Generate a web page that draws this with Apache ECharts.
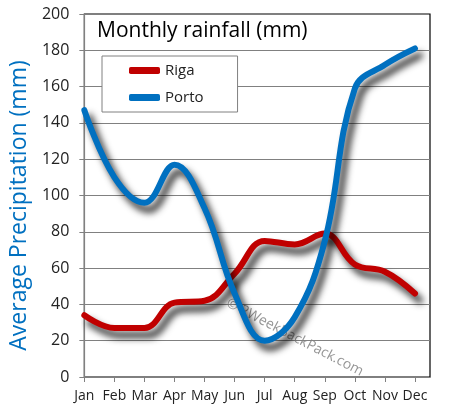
<!DOCTYPE html>
<html><head><meta charset="utf-8">
<script src="https://cdn.jsdelivr.net/npm/echarts@6/dist/echarts.min.js"></script>
<style>html,body{margin:0;padding:0;background:#fff}#c{width:450px;height:419px}</style>
</head><body><div id="c"></div>
<script>
var months = ['Jan','Feb','Mar','Apr','May','Jun','Jul','Aug','Sep','Oct','Nov','Dec'];
var riga = [34, 27, 27, 41, 42, 57, 75, 73, 79, 62, 58, 46];
var porto = [147, 110, 96, 117, 93, 46, 20, 33, 75, 159, 172, 181];
var yTicks = [0, 20, 40, 60, 80, 100, 120, 140, 160, 180, 200];
var FONT = 'Open Sans';

function pairs(arr){ return arr.map(function(v,i){ return [i, v]; }); }
var idx = months.map(function(m,i){ return i; });

var chart = echarts.init(document.getElementById('c'), null, {renderer:'canvas'});
var shadow = {shadowColor:'rgba(0,0,0,0.85)', shadowBlur:7, shadowOffsetX:5, shadowOffsetY:7};
chart.setOption({
  animation:false,
  backgroundColor:'#fff',
  title:{text:'Monthly rainfall (mm)', left:92, top:16,
    textStyle:{fontFamily:FONT, fontSize:21, fontWeight:'normal', color:'#000'}},
  legend:{orient:'vertical', left:102, top:56, padding:[7,34,7,27],
    borderColor:'#808080', borderWidth:1, backgroundColor:'#fff',
    itemWidth:31, itemHeight:7, itemGap:12, icon:'roundRect',
    textStyle:{fontFamily:FONT, fontSize:15, color:'#222'},
    data:['Riga','Porto']},
  grid:{left:79, right:20, top:14, bottom:42, show:true, borderColor:'#000', borderWidth:1.2, backgroundColor:'transparent'},
  xAxis:{type:'value', min:0, max:11.5, interval:1,
    axisLine:{show:true, lineStyle:{color:'#808080', width:1.2}},
    axisTick:{show:true, length:5, customValues:idx, lineStyle:{color:'#808080'}},
    axisLabel:{customValues:idx, margin:12, fontFamily:FONT, fontSize:14, color:'#222',
      formatter:function(v){ return months[Math.round(v)] || ''; }},
    splitLine:{show:false}},
  yAxis:{type:'value', min:yTicks[0], max:yTicks[yTicks.length-1], interval:20,
    name:'Average Precipitation (mm)', nameLocation:'middle', nameGap:37,
    nameTextStyle:{fontFamily:FONT, fontSize:23, color:'#0070C0', padding:[0,20,0,0]},
    axisLine:{show:true, lineStyle:{color:'#808080', width:1.2}},
    axisTick:{show:true, length:5, lineStyle:{color:'#808080'}},
    axisLabel:{margin:15, fontFamily:FONT, fontSize:16, color:'#222'},
    splitLine:{show:true, showMaxLine:false, lineStyle:{color:'#808080', width:1}}},
  graphic:[{type:'text', left:224, top:296, rotation:-0.48, silent:true,
    style:{text:'\u00A9 2WeekBackPack.com', fontFamily:FONT, fontSize:14, fill:'rgba(90,90,90,0.65)'}}],
  series:[
    {name:'Riga', type:'line', data:pairs(riga), smooth:0.4, showSymbol:false, color:'#C00000',
      lineStyle:Object.assign({width:6, color:'#C00000', cap:'round'}, shadow), z:2},
    {name:'Porto', type:'line', data:pairs(porto), smooth:0.4, showSymbol:false, color:'#0070C0',
      lineStyle:Object.assign({width:6, color:'#0070C0', cap:'round'}, shadow), z:3}
  ]
});
</script></body></html>
